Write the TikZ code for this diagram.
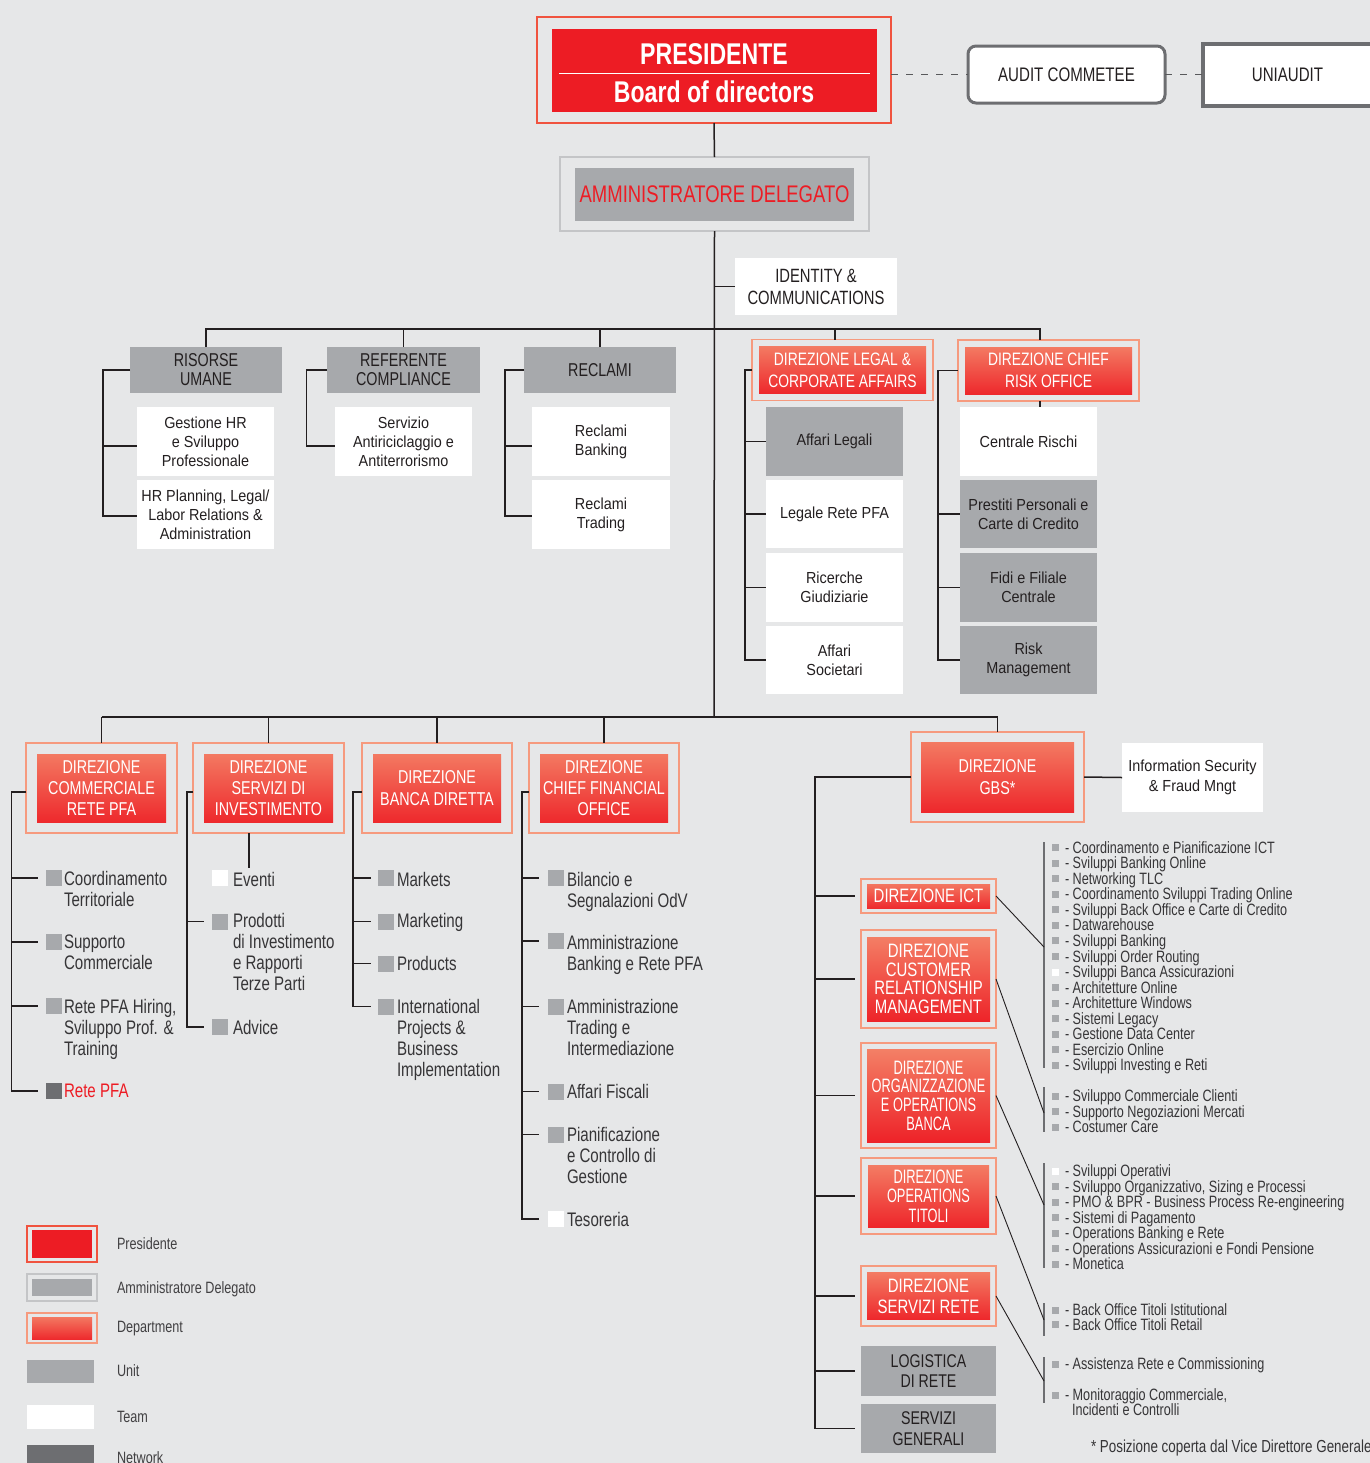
\documentclass[tikz,border=0pt]{standalone}
\usepackage{fontspec}
\setmainfont{Liberation Sans}[FakeStretch=0.77]
\newfontfamily\semif{Liberation Sans}[FakeStretch=0.9]
\newfontfamily\narrowf{Liberation Sans}[FakeStretch=0.66]
\definecolor{bgc}{HTML}{E6E7E8}
\definecolor{red1}{HTML}{ED1C24}
\definecolor{dtop}{HTML}{F4866A}
\definecolor{sal}{HTML}{F69A7E}
\definecolor{presfr}{HTML}{F0533F}
\definecolor{ug}{HTML}{A7A9AC}
\definecolor{ng}{HTML}{6D6E71}
\definecolor{dg}{HTML}{58595B}
\definecolor{tc}{HTML}{231F20}
\definecolor{lc}{HTML}{231F20}
\definecolor{lg}{HTML}{C4C5C7}
\definecolor{listc}{HTML}{363537}
\definecolor{legc}{HTML}{414042}
\newcommand\lsq[1]{\raisebox{1pt}{\textcolor{#1}{\rule{3.5pt}{3.5pt}}}\hspace{3pt}-\ }
\begin{document}
\begin{tikzpicture}[x=0.5pt,y=-0.5pt,
  every node/.style={inner sep=0pt,outer sep=0pt},
  conn/.style={draw=lc,line width=0.75pt},
  bar/.style={draw=ng,line width=0.6pt},
  diag/.style={draw=lc,line width=0.45pt},
  dashconn/.style={draw=dg,line width=0.75pt,dash pattern=on 3.5pt off 4pt},
  box/.style={align=center},
  unitbox/.style={box,fill=ug,text=tc,font=\fontsize{9.3}{9.5}\selectfont},
  teambox/.style={box,fill=white,text=tc,font=\semif\fontsize{8}{9.5}\selectfont},
  unitteam/.style={teambox,fill=ug},
  deptbox/.style 2 args={box,draw=sal,line width=0.9pt,fill=bgc,text=white,
    path picture={\shade[top color=dtop,bottom color=red1]
      ([shift={(#1,-#2)}]path picture bounding box.north west) rectangle
      ([shift={(-#1,#2)}]path picture bounding box.south east);}},
  presbox/.style 2 args={box,draw=presfr,line width=0.9pt,fill=bgc,text=white,
    path picture={\fill[red1]
      ([shift={(#1,-#2)}]path picture bounding box.north west) rectangle
      ([shift={(-#1,#2)}]path picture bounding box.south east);}},
  adbox/.style 2 args={box,draw=lg,line width=0.9pt,fill=bgc,
    path picture={\fill[ug]
      ([shift={(#1,-#2)}]path picture bounding box.north west) rectangle
      ([shift={(-#1,#2)}]path picture bounding box.south east);}},
  sqbox/.style={minimum size=8pt,fill=ug},
  litem/.style={anchor=north west,align=left,text=listc,font=\fontsize{9.8}{10.6}\selectfont},
  rlist/.style={anchor=base west,text=listc,font=\fontsize{8.2}{9}\selectfont},
  leg/.style={anchor=west,text=legc,font=\fontsize{8.2}{9}\selectfont,text height=6pt,text depth=1.5pt}
]
\fill[bgc] (0,0) rectangle (1370,1463);
\useasboundingbox (0,0) rectangle (1370,1463);

% ---------- top ----------
\node[presbox={7.25pt}{5.75pt},minimum width=177pt,minimum height=53pt,
      font=\bfseries\fontsize{15}{19}\selectfont] (pres) at (714,70)
      {\rule{0pt}{13.3pt}PRESIDENTE\\Board of directors};
\draw[white,line width=0.5pt] (559,73) -- (870,73);
\node[adbox={7.5pt}{5.25pt},minimum width=154.5pt,minimum height=37pt,text=red1,
      font=\fontsize{12}{14}\selectfont] (ad) at (714.5,194) {AMMINISTRATORE DELEGATO};
\node[box,draw=ng,line width=1.5pt,rounded corners=4pt,fill=white,text=tc,
      minimum width=98.5pt,minimum height=28.5pt,font=\fontsize{9.8}{11}\selectfont]
      (audit) at (1066.5,74.5) {AUDIT COMMETEE};
\node[box,draw=ng,line width=2pt,fill=white,text=tc,minimum width=84.5pt,
      minimum height=31pt,font=\fontsize{9.8}{11}\selectfont] (uni) at (1287.5,75) {UNIAUDIT};
\draw[dashconn] (pres.east |- audit.west) -- (audit.west);
\draw[dashconn] (audit.east) -- (uni.west |- audit.east);

\node[box,fill=white,text=tc,minimum width=81pt,minimum height=28.5pt,
      font=\fontsize{9.6}{11}\selectfont] (ident) at (816,286.5) {IDENTITY \&\\COMMUNICATIONS};

\coordinate (bar1) at (714,329);
\coordinate (trunk) at (714,717);
\draw[conn] (pres.south) -- (ad.north);
\draw[conn] (ad.south) -- (trunk);
\draw[conn] (ident.west) -- (ident.west -| ad.south);

% ---------- row 1 ----------
\node[unitbox,minimum width=76pt,minimum height=23pt] (ru) at (206,370) {RISORSE\\UMANE};
\node[unitbox,minimum width=76.5pt,minimum height=23pt] (rc) at (403.5,370) {REFERENTE\\COMPLIANCE};
\node[unitbox,minimum width=76pt,minimum height=23pt] (rec) at (600,370) {RECLAMI};
\node[teambox,minimum width=68.5pt,minimum height=34.5pt] (gest) at (205.5,441.5) {Gestione HR\\e Sviluppo\\Professionale};
\node[teambox,minimum width=68.5pt,minimum height=34.5pt] (hrp) at (205.5,514.5) {HR Planning, Legal/\\Labor Relations \&\\Administration};
\node[teambox,minimum width=68.5pt,minimum height=34.5pt] (serv) at (403.5,441.5) {Servizio\\Antiriciclaggio e\\Antiterrorismo};
\node[teambox,minimum width=69pt,minimum height=34.5pt] (rb) at (601,441.5) {Reclami\\Banking};
\node[teambox,minimum width=69pt,minimum height=34.5pt] (rt) at (601,514.5) {Reclami\\Trading};

\node[deptbox={3.5pt}{3.5pt},minimum width=90.5pt,minimum height=30.5pt,
      font=\fontsize{9}{11}\selectfont] (legal) at (842.5,370) {DIREZIONE LEGAL \&\\CORPORATE AFFAIRS};
\node[deptbox={3.5pt}{3.5pt},minimum width=90.5pt,minimum height=30.5pt,
      font=\fontsize{9}{11}\selectfont] (risk) at (1048.5,370.5) {DIREZIONE CHIEF\\RISK OFFICE};
\node[unitteam,minimum width=68.5pt,minimum height=34.5pt] (al) at (834.5,441.5) {Affari Legali};
\node[teambox,minimum width=68.5pt,minimum height=34pt] (lr) at (834.5,514) {Legale Rete PFA};
\node[teambox,minimum width=68.5pt,minimum height=34.5pt] (rg) at (834.5,587.5) {Ricerche\\Giudiziarie};
\node[teambox,minimum width=68.5pt,minimum height=34pt] (as) at (834.5,660) {Affari\\Societari};
\node[teambox,minimum width=68.5pt,minimum height=34.5pt] (cr) at (1028.5,441.5) {Centrale Rischi};
\node[unitteam,minimum width=68.5pt,minimum height=34pt] (pp) at (1028.5,514) {Prestiti Personali e\\Carte di Credito};
\node[unitteam,minimum width=68.5pt,minimum height=34.5pt] (ff) at (1028.5,587.5) {Fidi e Filiale\\Centrale};
\node[unitteam,minimum width=68.5pt,minimum height=34pt] (rm) at (1028.5,660) {Risk\\Management};

\coordinate (legdrop) at (835,329);
\coordinate (riskdrop) at (1040,329);
\draw[conn] (ru.north) -- (ru.north |- bar1) -- (riskdrop) -- (riskdrop |- risk.north);
\draw[conn] (rc.north) -- (rc.north |- bar1);
\draw[conn] (rec.north) -- (rec.north |- bar1);
\draw[conn] (legdrop) -- (legdrop |- legal.north);
\draw[conn] (riskdrop |- risk.south) -- (riskdrop |- cr.north);

\coordinate (rub) at (103,370);
\draw[conn] (ru.west) -- (rub) |- ([yshift=-0.75pt]hrp.west);
\draw[conn] ([yshift=-2.25pt]gest.west -| rub) -- ([yshift=-2.25pt]gest.west);
\coordinate (rcb) at (306.5,370);
\draw[conn] (rc.west) -- (rcb) |- ([yshift=-2.25pt]serv.west);
\coordinate (recb) at (505,370);
\draw[conn] (rec.west) -- (recb) |- ([yshift=-0.75pt]rt.west);
\draw[conn] ([yshift=-2.25pt]rb.west -| recb) -- ([yshift=-2.25pt]rb.west);
\coordinate (legb) at (745,370);
\draw[conn] (legal.west) -- (legb) |- (as.west);
\foreach \n in {al,lr,rg} \draw[conn] (\n.west -| legb) -- (\n.west);
\coordinate (riskb) at (938,370);
\draw[conn] (risk.west) -- (risk.west -| riskb) |- (rm.west);
\foreach \n in {pp,ff} \draw[conn] (\n.west -| riskb) -- (\n.west);

% ---------- row 2 ----------
\node[deptbox={5.5pt}{5.5pt},minimum width=75.5pt,minimum height=45pt,
      font=\fontsize{9.3}{10.5}\selectfont] (dc) at (101.5,788) {DIREZIONE\\COMMERCIALE\\RETE PFA};
\node[deptbox={5.5pt}{5.5pt},minimum width=75.5pt,minimum height=45pt,
      font=\fontsize{9.3}{10.5}\selectfont] (ds) at (268.5,788) {DIREZIONE\\SERVIZI DI\\INVESTIMENTO};
\node[deptbox={5.5pt}{5.5pt},minimum width=75pt,minimum height=45pt,
      font=\fontsize{9.3}{11}\selectfont] (db) at (437,788) {DIREZIONE\\BANCA DIRETTA};
\node[deptbox={5.5pt}{5.5pt},minimum width=75pt,minimum height=45pt,
      font=\fontsize{9.3}{10.5}\selectfont] (df) at (604,788) {DIREZIONE\\CHIEF FINANCIAL\\OFFICE};
\node[deptbox={5pt}{5pt},minimum width=86.5pt,minimum height=45pt,
      font=\fontsize{9.3}{11}\selectfont] (gbs) at (997.5,777) {DIREZIONE\\GBS*};
\node[teambox,minimum width=70.5pt,minimum height=34.5pt,font=\semif\fontsize{8}{10}\selectfont]
      (info) at (1192.5,777.5) {Information Security\\\& Fraud Mngt};

\draw[conn] (dc.north |- trunk) -- (gbs.north |- trunk);
\foreach \n in {dc,ds,db,df,gbs} \draw[conn] (\n.north |- trunk) -- (\n.north);
\draw[conn] (gbs.east) -- (info.west);

% lists
\node[sqbox] (c1s) at (54,878) {};
\node[litem] (c1) at (64,871) {Coordinamento\\Territoriale};
\node[sqbox] (c2s) at (54,942) {};
\node[litem] (c2) at (64,935) {Supporto\\Commerciale};
\node[sqbox] (c3s) at (54,1006) {};
\node[litem] (c3) at (64,999) {Rete PFA Hiring,\\Sviluppo Prof. \&\\Training};
\node[sqbox,fill=ng] (c4s) at (54,1091) {};
\node[litem,text=red1] (c4) at (64,1084) {Rete PFA};

\node[sqbox,fill=white] (e1s) at (220,878) {};
\node[litem] (e1) at (233,872) {Eventi};
\node[sqbox] (e2s) at (220,921.5) {};
\node[litem] (e2) at (233,913) {Prodotti\\di Investimento\\e Rapporti\\Terze Parti};
\node[sqbox] (e3s) at (220,1027) {};
\node[litem] (e3) at (233,1020) {Advice};

\node[sqbox] (b1s) at (386,878) {};
\node[litem] (b1) at (397,872) {Markets};
\node[sqbox] (b2s) at (386,921.5) {};
\node[litem] (b2) at (397,913) {Marketing};
\node[sqbox] (b3s) at (386,963.5) {};
\node[litem] (b3) at (397,956) {Products};
\node[sqbox] (b4s) at (386,1006.5) {};
\node[litem] (b4) at (397,999) {International\\Projects \&\\Business\\Implementation};

\node[sqbox] (f1s) at (556,878) {};
\node[litem] (f1) at (567,872) {Bilancio e\\Segnalazioni OdV};
\node[sqbox] (f2s) at (556,941) {};
\node[litem] (f2) at (567,935) {Amministrazione\\Banking e Rete PFA};
\node[sqbox] (f3s) at (556,1006.5) {};
\node[litem] (f3) at (567,999) {Amministrazione\\Trading e\\Intermediazione};
\node[sqbox] (f4s) at (556,1091.5) {};
\node[litem] (f4) at (567,1084) {Affari Fiscali};
\node[sqbox] (f5s) at (556,1134.5) {};
\node[litem] (f5) at (567,1127) {Pianificazione\\e Controllo di\\Gestione};
\node[sqbox,fill=white] (f6s) at (556,1219) {};
\node[litem] (f6) at (567,1212) {Tesoreria};

\coordinate (dcb) at (11.5,792);
\draw[conn] (dc.west |- dcb) -- (dcb) |- ([xshift=-4pt]c4s.west);
\foreach \n in {c1s,c2s,c3s} \draw[conn] (dcb |- \n.west) -- ([xshift=-4pt]\n.west);
\coordinate (dsb) at (187,792);
\draw[conn] (ds.west |- dsb) -- (dsb) |- ([xshift=-4pt]e3s.west);
\draw[conn] (dsb |- e2s.west) -- ([xshift=-4pt]e2s.west);
\coordinate (evd) at ([xshift=-9.75pt]ds.south);
\draw[conn] (evd) -- ([yshift=1pt]evd |- e1s.north);
\coordinate (dbb) at (353,792);
\draw[conn] (db.west |- dbb) -- (dbb) |- ([xshift=-3.5pt]b4s.west);
\foreach \n in {b1s,b2s,b3s} \draw[conn] (dbb |- \n.west) -- ([xshift=-3.5pt]\n.west);
\coordinate (dfb) at (522,792);
\draw[conn] (df.west |- dfb) -- (dfb) |- ([xshift=-4.5pt]f6s.west);
\foreach \n in {f1s,f2s,f3s,f4s,f5s} \draw[conn] (dfb |- \n.west) -- ([xshift=-4.5pt]\n.west);

% ---------- GBS ----------
\node[deptbox={3pt}{2.5pt},minimum width=67.5pt,minimum height=17pt,
      font=\fontsize{9.7}{9.3}\selectfont] (ict) at (928.5,896) {DIREZIONE ICT};
\node[deptbox={3pt}{3.5pt},minimum width=67.5pt,minimum height=49pt,
      font=\fontsize{9.7}{9.3}\selectfont] (crm) at (928.5,979) {DIREZIONE\\CUSTOMER\\RELATIONSHIP\\MANAGEMENT};
\node[deptbox={3pt}{3pt},minimum width=67.5pt,minimum height=52.5pt,
      font=\narrowf\fontsize{9.7}{9.35}\selectfont] (org) at (928.5,1095.5) {DIREZIONE\\ORGANIZZAZIONE\\E OPERATIONS\\BANCA};
\node[deptbox={3.5pt}{3.5pt},minimum width=67.5pt,minimum height=38pt,
      font=\narrowf\fontsize{9.7}{9.75}\selectfont] (opt) at (928.5,1196) {DIREZIONE\\OPERATIONS\\TITOLI};
\node[deptbox={3pt}{3.25pt},minimum width=67.5pt,minimum height=30pt,
      font=\fontsize{9.7}{10.5}\selectfont] (sr) at (928.5,1296) {DIREZIONE\\SERVIZI RETE};
\node[unitbox,minimum width=67.5pt,minimum height=25pt,font=\fontsize{9.2}{10}\selectfont]
      (log) at (928.5,1371) {LOGISTICA\\DI RETE};
\node[unitbox,minimum width=67.5pt,minimum height=24.5pt,font=\fontsize{9.2}{10.5}\selectfont]
      (sg) at (928.5,1428.5) {SERVIZI\\GENERALI};

\coordinate (gbsb) at (815,777);
\draw[conn] (gbs.west) -- (gbsb) |- ([xshift=-3pt]sg.west);
\foreach \n in {ict,crm,org,opt,sr,log} \draw[conn] (gbsb |- \n.west) -- ([xshift=-3pt]\n.west);

% right lists
\coordinate (ictT) at (1044,842);  \coordinate (ictB) at (1044,1068); \coordinate (ictM) at (1044,947);
\coordinate (crmT) at (1044,1087); \coordinate (crmB) at (1044,1132); \coordinate (crmM) at (1044,1113);
\coordinate (orgT) at (1044,1163); \coordinate (orgB) at (1044,1268); \coordinate (orgM) at (1044,1205);
\coordinate (optT) at (1044,1303); \coordinate (optB) at (1044,1336); \coordinate (optM) at (1044,1320);
\coordinate (srT) at (1044,1357);  \coordinate (srB) at (1044,1403);  \coordinate (srM) at (1044,1381);
\foreach \n in {ict,crm,org,opt,sr} {
  \draw[bar] (\n T) -- (\n B);
  \draw[diag] (\n.east) -- (\n M);
}

\foreach \t/\c [count=\i] in {Coordinamento e Pianificazione ICT/ug, Sviluppi Banking Online/ug,
   Networking TLC/ug, Coordinamento Sviluppi Trading Online/ug,
   Sviluppi Back Office e Carte di Credito/ug, Datwarehouse/ug, Sviluppi Banking/ug,
   Sviluppi Order Routing/ug, Sviluppi Banca Assicurazioni/white, Architetture Online/ug,
   Architetture Windows/ug, Sistemi Legacy/ug, Gestione Data Center/ug, Esercizio Online/ug,
   Sviluppi Investing e Reti/ug}
  \node[rlist] (ia\i) at (1052,{853+15.57*(\i-1)}) {\lsq{\c}\t};

\foreach \t [count=\i] in {Sviluppo Commerciale Clienti, Supporto Negoziazioni Mercati, Costumer Care}
  \node[rlist] (ib\i) at (1052,{1101.5+15.5*(\i-1)}) {\lsq{ug}\t};

\foreach \t/\c [count=\i] in {Sviluppi Operativi/white, {Sviluppo Organizzativo, Sizing e Processi}/ug,
   PMO \& BPR - Business Process Re-engineering/ug, Sistemi di Pagamento/ug,
   Operations Banking e Rete/ug, Operations Assicurazioni e Fondi Pensione/ug, Monetica/ug}
  \node[rlist] (ic\i) at (1052,{1176.5+15.5*(\i-1)}) {\lsq{\c}\t};

\node[rlist] (id1) at (1052,1315.5) {\lsq{ug}Back Office Titoli Istitutional};
\node[rlist] (id2) at (1052,1330) {\lsq{ug}Back Office Titoli Retail};
\node[rlist] (ie1) at (1052,1369.5) {\lsq{ug}Assistenza Rete e Commissioning};
\node[rlist] (ie2) at (1052,1400.5) {\lsq{ug}Monitoraggio Commerciale,};
\node[rlist] (ie3) at (1072,1415) {Incidenti e Controlli};

\node[rlist,font=\fontsize{8.7}{9}\selectfont] (foot) at (1091,1452) {* Posizione coperta dal Vice Direttore Generale};

% ---------- legend ----------
\node[presbox={2.5pt}{2pt},minimum width=35pt,minimum height=18pt] (lp) at (62,1244) {};
\node[adbox={2.5pt}{2.5pt},minimum width=35pt,minimum height=13.5pt] (lad) at (62,1287.5) {};
\node[deptbox={2.5pt}{2pt},minimum width=35pt,minimum height=15pt] (ldp) at (62,1328) {};
\node[fill=ug,minimum width=33.5pt,minimum height=11.5pt] (lu) at (60.5,1371.5) {};
\node[fill=white,minimum width=33.5pt,minimum height=12pt] (lte) at (60.5,1417) {};
\node[fill=ng,minimum width=33.5pt,minimum height=11pt] (lnw) at (60.5,1456) {};
\node[leg] (lpl) at (117,1245) {Presidente};
\node[leg] (ladl) at (117,1289) {Amministratore Delegato};
\node[leg] (ldpl) at (117,1328) {Department};
\node[leg] (lul) at (117,1372) {Unit};
\node[leg] (ltel) at (117,1418) {Team};
\node[leg] (lnwl) at (117,1459) {Network};
\end{tikzpicture}
\end{document}
